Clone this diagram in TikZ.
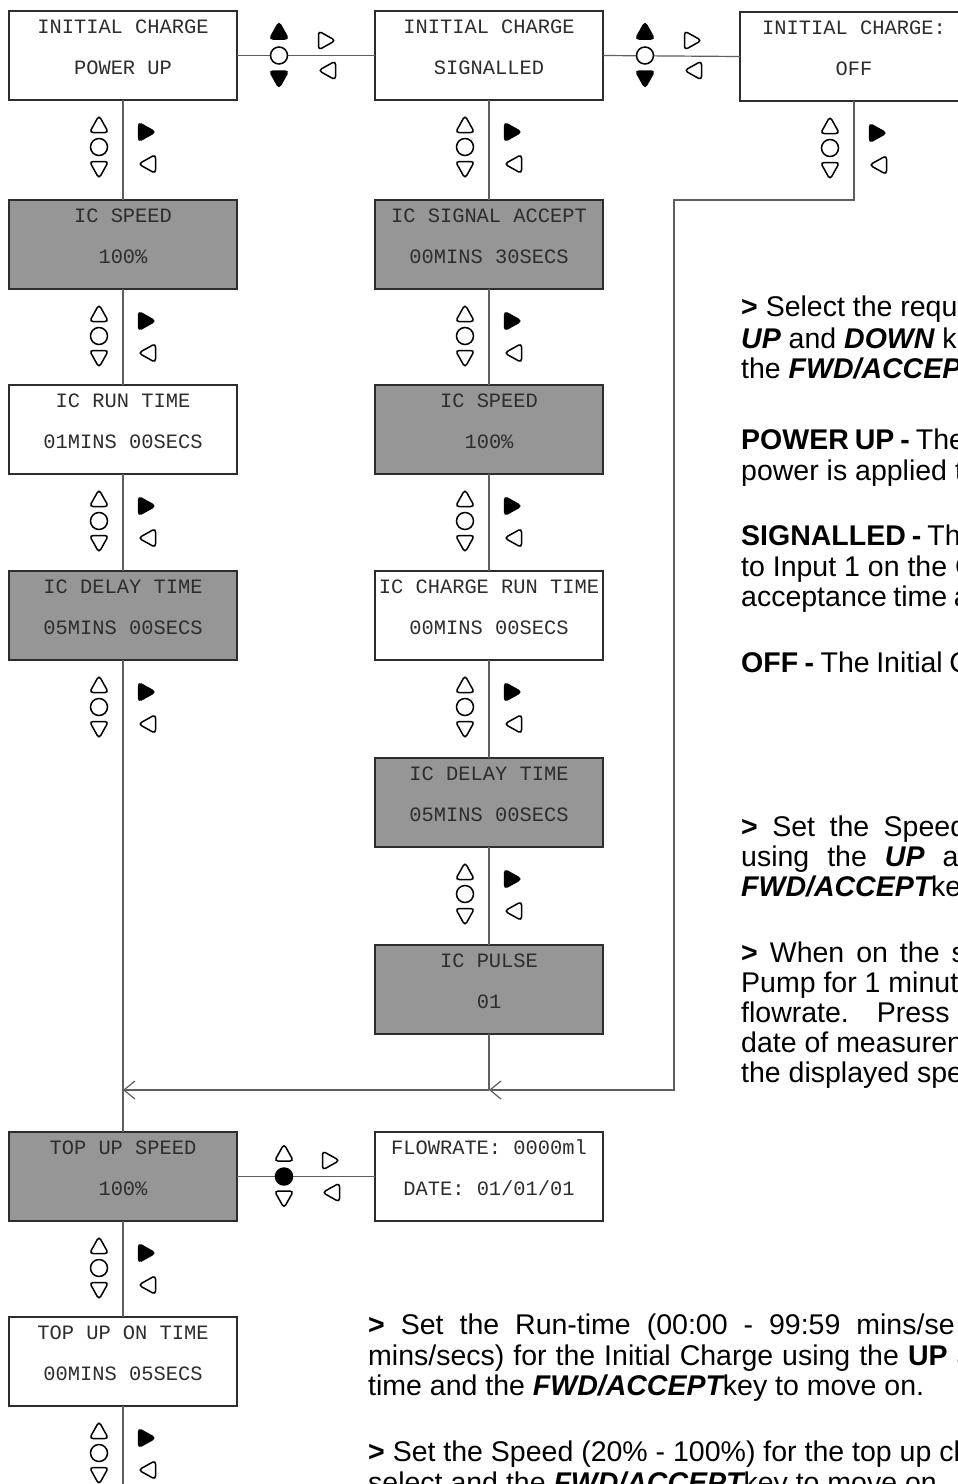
\documentclass[tikz,border=0pt]{standalone}
\usepackage{fontspec}
\newfontfamily\lcdfont{Liberation Mono}
\newfontfamily\txtfont{Liberation Sans}
\usetikzlibrary{calc,arrows.meta}
\definecolor{boxgray}{RGB}{150,150,150}
\definecolor{ink}{RGB}{45,45,45}
\definecolor{linegray}{RGB}{95,95,95}
\newcommand\BI[1]{{\bfseries\itshape #1}}
\newcommand\lcd[6]{%
  \node[#4] (#1) at (#2,#3+44.5) {};
  \node[lcdtext] (#1-l1) at ($(#1.north)+(0,22)$) {#5};
  \node[lcdtext] (#1-l2) at ($(#1.north)+(0,63)$) {#6};
}
\newcommand\vstack[1]{%
  \pic at ($(#1.south)+(-24,24)$) {utri=white};
  \pic at ($(#1.south)+(-24,47)$) {ring=white};
  \pic at ($(#1.south)+(-24,70)$) {dtri=white};
  \pic at ($(#1.south)+(24,32)$) {rtri=black};
  \pic at ($(#1.south)+(24,64)$) {ltri=white};
}
\tikzset{
  lcdbox/.style={draw=ink, line width=1.2pt, minimum width=228pt, minimum height=89pt, inner sep=0pt, outer sep=0pt},
  graybox/.style={lcdbox, fill=boxgray},
  whitebox/.style={lcdbox, fill=white},
  lcdtext/.style={font=\lcdfont\fontsize{20.4}{24}\selectfont, text=ink, anchor=base, inner sep=0pt},
  conn/.style={draw=linegray, line width=1.2pt},
  tip/.style={-{Straight Barb[length=11pt,width=18pt]}},
  icon/.style={draw=black, line width=1.5pt, rounded corners=3.5pt},
  utri/.pic={\path[icon,fill=#1] (-9.5,8.5) -- (0,-8.5) -- (9.5,8.5) -- cycle;},
  dtri/.pic={\path[icon,fill=#1] (-9.5,-8.5) -- (0,8.5) -- (9.5,-8.5) -- cycle;},
  rtri/.pic={\path[icon,fill=#1] (-8.5,-9.5) -- (8.5,0) -- (-8.5,9.5) -- cycle;},
  ltri/.pic={\path[icon,fill=#1] (8.5,-9.5) -- (-8.5,0) -- (8.5,9.5) -- cycle;},
  ring/.pic={\path[icon,fill=#1] (0,0) circle[radius=8.5];},
  tline/.style={font=\txtfont\fontsize{28.5}{30}\selectfont, text=black, anchor=base west, inner sep=0pt},
}
\begin{document}
\begin{tikzpicture}[x=1pt,y=-1pt]
\useasboundingbox (0,0) rectangle (958,1484);
\fill[white] (0,0) rectangle (958,1484);
\clip (0,0) rectangle (958,1484);

% boxes
\lcd{a1}{123}{11}{whitebox}{INITIAL CHARGE}{POWER UP}
\lcd{b1}{489}{11}{whitebox}{INITIAL CHARGE}{SIGNALLED}
\lcd{c1}{854}{12}{whitebox}{INITIAL CHARGE:}{OFF}
\lcd{a2}{123}{200}{graybox}{IC SPEED}{100\%}
\lcd{a3}{123}{385}{whitebox}{IC RUN TIME}{01MINS 00SECS}
\lcd{a4}{123}{571}{graybox}{IC DELAY TIME}{05MINS 00SECS}
\lcd{a5}{123}{1132}{graybox}{TOP UP SPEED}{100\%}
\lcd{a6}{123}{1317}{whitebox}{TOP UP ON TIME}{00MINS 05SECS}
\lcd{b2}{489}{200}{graybox}{IC SIGNAL ACCEPT}{00MINS 30SECS}
\lcd{b3}{489}{385}{graybox}{IC SPEED}{100\%}
\lcd{b4}{489}{571}{whitebox}{IC CHARGE RUN TIME}{00MINS 00SECS}
\lcd{b5}{489}{758}{graybox}{IC DELAY TIME}{05MINS 00SECS}
\lcd{b6}{489}{945}{graybox}{IC PULSE}{01}
\lcd{f1}{489}{1132}{whitebox}{FLOWRATE: 0000ml}{DATE: 01/01/01}

% helper coordinates
\coordinate (j1) at (123,1090);
\coordinate (j2) at (489,1090);
\coordinate (t1) at (854,200);
\coordinate (t2) at (674,200);
\coordinate (t3) at (674,1090);
\coordinate (aend) at (123,1500);

% vertical connectors
\draw[conn] (a1.south) -- (a2.north);
\draw[conn] (a2.south) -- (a3.north);
\draw[conn] (a3.south) -- (a4.north);
\draw[conn] (a4.south) -- (a5.north);
\draw[conn] (a5.south) -- (a6.north);
\draw[conn] (a6.south) -- (aend);
\draw[conn] (b1.south) -- (b2.north);
\draw[conn] (b2.south) -- (b3.north);
\draw[conn] (b3.south) -- (b4.north);
\draw[conn] (b4.south) -- (b5.north);
\draw[conn] (b5.south) -- (b6.north);
\draw[conn] (b6.south) -- (j2);
\draw[conn,tip] (j2) -- (j1);
\draw[conn,tip] (c1.south) -- (t1) -- (t2) -- (t3) -- (j2);

% horizontal connectors
\draw[conn] (a1.east) -- (b1.west);
\draw[conn] (b1.east) -- (c1.west);
\draw[conn] (a5.east) -- (f1.west);

% horizontal key groups
\pic at ($(a1.east)+(42,-25)$) {utri=black};
\pic at ($(a1.east)+(42,0)$) {ring=white};
\pic at ($(a1.east)+(42,24)$) {dtri=black};
\pic at ($(a1.east)+(90,-15)$) {rtri=white};
\pic at ($(a1.east)+(90,15)$) {ltri=white};

\pic at ($(b1.east)+(42,-25)$) {utri=black};
\pic at ($(b1.east)+(42,0)$) {ring=white};
\pic at ($(b1.east)+(42,24)$) {dtri=black};
\pic at ($(b1.east)+(90,-15)$) {rtri=white};
\pic at ($(b1.east)+(90,15)$) {ltri=white};

\pic at ($(a5.east)+(47,-24)$) {utri=white};
\pic at ($(a5.east)+(47,0)$) {ring=black};
\pic at ($(a5.east)+(47,23)$) {dtri=white};
\pic at ($(a5.east)+(94,-16)$) {rtri=white};
\pic at ($(a5.east)+(94,16)$) {ltri=white};

% vertical key groups
\vstack{a1}\vstack{a2}\vstack{a3}\vstack{a4}\vstack{a5}\vstack{a6}
\vstack{b1}\vstack{b2}\vstack{b3}\vstack{b4}\vstack{b5}
\vstack{c1}

% right text block
\node[tline] (r1) at (741,316) {\textbf{>} Select the requ};
\node[tline] (r2) at (741,348) {\BI{UP} and \BI{DOWN} k};
\node[tline] (r3) at (741,378) {the \BI{FWD/ACCEP}};
\node[tline] (r4) at (741,449) {\spaceskip=6pt\relax\textbf{POWER UP -} The};
\node[tline] (r5) at (741,480) {power is applied t};
\node[tline] (r6) at (741,545) {\spaceskip=6pt\relax\textbf{SIGNALLED -} Th};
\node[tline] (r7) at (741,576) {to Input 1 on the C};
\node[tline] (r8) at (741,606) {\spaceskip=6.5pt\relax acceptance time a};
\node[tline] (r9) at (741,672) {\spaceskip=6.5pt\relax\textbf{OFF -} The Initial C};
\node[tline] (r10) at (741,836) {\spaceskip=14.5pt\relax\textbf{>} Set the Speed};
\node[tline] (r11) at (741,866) {\spaceskip=18pt\relax using the \BI{UP} a};
\node[tline] (r12) at (741,896) {\BI{FWD/ACCEPT}ke};
\node[tline] (r13) at (741,962) {\spaceskip=12pt\relax\textbf{>} When on the s};
\node[tline] (r14) at (741,992) {Pump for 1 minut};
\node[tline] (r15) at (741,1022) {flowrate.\hspace{28pt}Press};
\node[tline] (r16) at (741,1052) {date of measuren};
\node[tline] (r17) at (741,1082) {the displayed spe};

% bottom text block
\node[tline] (s1) at (368,1334) {\spaceskip=16pt\relax\textbf{>} Set the Run-time (00:00 - 99:59 mins/se};
\node[tline] (s2) at (368,1365) {\spaceskip=9pt\relax mins/secs) for the Initial Charge using the \textbf{UP} a};
\node[tline] (s3) at (368,1395) {time and the \BI{FWD/ACCEPT}key to move on.};
\node[tline] (s4) at (368,1461) {\textbf{>} Set the Speed (20\% - 100\%) for the top up ch};
\node[tline] (s5) at (368,1492) {select and the \BI{FWD/ACCEPT}key to move on.};
\end{tikzpicture}
\end{document}
